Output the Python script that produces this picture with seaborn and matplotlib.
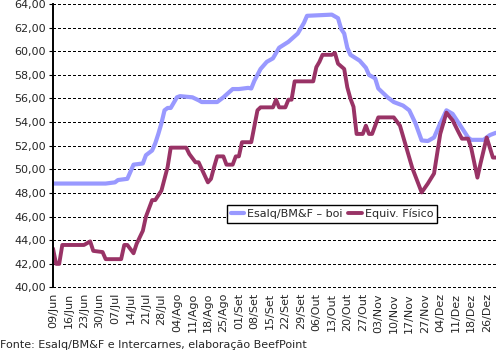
import matplotlib
matplotlib.use("Agg")
import matplotlib.pyplot as plt
import seaborn as sns
import pandas as pd
from matplotlib.lines import Line2D

# Category labels (every 5th trading day)
tick_labels = ["09/Jun", "16/Jun", "23/Jun", "30/Jun", "07/Jul", "14/Jul", "21/Jul", "28/Jul",
               "04/Ago", "11/Ago", "18/Ago", "25/Ago", "01/Set", "08/Set", "15/Set", "22/Set",
               "29/Set", "06/Out", "13/Out", "20/Out", "27/Out", "03/Nov", "10/Nov", "17/Nov",
               "27/Nov", "04/Dez", "11/Dez", "18/Dez", "26/Dez"]

# Esalq/BM&F - boi (day index, value)
esalq_day = [0, 17, 20, 21, 24, 25, 26, 29, 30, 32, 33, 34, 35, 36, 37, 38, 40, 41, 45, 47, 48,
             53, 55, 58, 60, 63, 64, 65, 67, 69, 71, 73, 76, 79, 81, 82, 90, 92, 93, 94, 95, 96,
             99, 101, 102, 104, 105, 108, 110, 113, 115, 117, 119, 121, 123, 125, 127, 129, 132,
             134, 135, 139, 141, 143]
esalq_val = [48.8, 48.8, 48.9, 49.1, 49.2, 49.8, 50.4, 50.5, 51.2, 51.6, 52.2, 53.0, 53.9, 55.0,
             55.2, 55.2, 56.1, 56.2, 56.1, 55.85, 55.7, 55.7, 56.1, 56.8, 56.8, 56.9, 56.85, 57.5,
             58.5, 59.1, 59.4, 60.3, 60.8, 61.5, 62.4, 63.0, 63.1, 62.8, 61.9, 61.5, 60.3, 59.7,
             59.2, 58.6, 58.0, 57.7, 56.85, 56.1, 55.7, 55.4, 55.0, 53.9, 52.45, 52.4, 52.7, 53.9,
             55.0, 54.7, 53.5, 52.7, 52.5, 52.5, 52.9, 53.1]

# Equiv. Físico (day index, value)
fisico_day = [0, 1, 2, 3, 10, 12, 13, 16, 17, 22, 23, 24, 26, 27, 29, 30, 32, 33, 35, 37, 38, 43,
              44, 46, 47, 50, 51, 52, 53, 55, 56, 58, 59, 60, 61, 64, 66, 67, 71, 72, 73, 75, 76,
              77, 78, 84, 85, 86, 87, 90, 91, 92, 94, 95, 96, 97, 98, 100, 101, 102, 103, 105,
              110, 112, 114, 116, 119, 121, 123, 125, 127, 129, 131, 132, 134, 135, 137, 138, 140,
              142, 143]
fisico_val = [43.3, 42.0, 42.0, 43.6, 43.6, 43.9, 43.1, 43.0, 42.4, 42.4, 43.6, 43.6, 42.9, 43.7,
              44.8, 46.0, 47.4, 47.4, 48.2, 50.2, 51.84, 51.84, 51.3, 50.6, 50.6, 48.9, 49.2, 50.2,
              51.1, 51.1, 50.4, 50.4, 51.1, 51.1, 52.3, 52.3, 55.0, 55.25, 55.25, 55.9, 55.25,
              55.25, 55.9, 55.9, 57.45, 57.45, 58.65, 59.1, 59.7, 59.7, 59.85, 58.95, 58.5, 56.95,
              56.0, 55.3, 53.0, 53.0, 53.7, 53.0, 53.0, 54.4, 54.4, 53.7, 51.9, 50.1, 48.05, 48.8,
              49.65, 53.0, 54.8, 54.15, 53.1, 52.6, 52.6, 51.8, 49.3, 50.5, 52.7, 51.0, 51.0]

y_ticks = [40, 42, 44, 46, 48, 50, 52, 54, 56, 58, 60, 62, 64]

sns.set_style("white")
plt.rcParams['font.family'] = ['DejaVu Sans']

df = pd.concat([
    pd.DataFrame({"dia": esalq_day, "valor": esalq_val, "serie": "Esalq/BM&F – boi"}),
    pd.DataFrame({"dia": fisico_day, "valor": fisico_val, "serie": "Equiv. Físico"}),
])

fig = plt.figure(figsize=(4.96, 3.56), dpi=100)
ax = fig.add_axes([53 / 496, 1 - 287.5 / 356, 1 - 53 / 496, 283.5 / 356])

sns.lineplot(data=df, x="dia", y="valor", hue="serie",
             palette={"Esalq/BM&F – boi": "#9999ff", "Equiv. Físico": "#993366"},
             ax=ax, legend=False, estimator=None, sort=False)
for line, lw in zip(ax.get_lines(), [3.0, 2.8]):
    line.set_linewidth(lw)
    line.set_zorder(3)

ax.set_xlim(0, 143)
ax.set_ylim(40, 64)
ax.set_yticks(y_ticks)
ax.set_yticklabels([f"{v:.2f}".replace(".", ",") for v in y_ticks], fontsize=8)
ax.set_xticks(list(range(0, 5 * len(tick_labels), 5)))
ax.set_xticklabels(tick_labels, rotation=90, fontsize=8)
ax.tick_params(axis="x", length=0, pad=4, bottom=False)
ax.tick_params(axis="y", length=3, width=0.8, color="black", direction="out", pad=2, left=True)
ax.set_xlabel("")
ax.set_ylabel("")
for s in ["top", "right", "bottom"]:
    ax.spines[s].set_visible(False)
ax.spines["left"].set_color("black")
ax.spines["left"].set_linewidth(1.4)
ax.spines["left"].set_zorder(4)

for y in y_ticks:
    ax.axhline(y, color="black", lw=0.75, ls=(0, (2, 2)), zorder=2, clip_on=False,
               antialiased=False)

handles = [Line2D([], [], color="#9999ff", lw=3.0), Line2D([], [], color="#993366", lw=2.8)]
leg = fig.legend(handles, ["Esalq/BM&F – boi", "Equiv. Físico"], ncol=2,
                 loc="center", bbox_to_anchor=(332 / 496, 1 - 214 / 356),
                 fontsize=8, frameon=True, fancybox=False, handlelength=1.2,
                 handletextpad=0.3, columnspacing=0.5, borderpad=0.3, borderaxespad=0)
leg.get_frame().set_edgecolor("black")
leg.get_frame().set_linewidth(1.0)
leg.get_frame().set_alpha(1.0)

fig.text(0.0, 1 - 348 / 356, "Fonte: Esalq/BM&F e Intercarnes, elaboração BeefPoint",
         fontsize=8, ha="left", va="baseline")

fig.savefig("out.png", dpi=100)
